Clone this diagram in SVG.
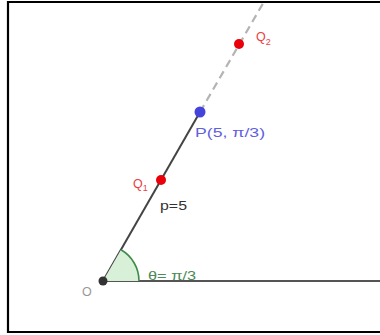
<svg xmlns="http://www.w3.org/2000/svg" width="380" height="335" viewBox="0 0 380 335">
<style>
text{font-family:"Liberation Sans",Arial,sans-serif;font-size:12.5px}
.red{fill:#e8413f}
</style>
<rect width="380" height="335" fill="#fff"/>
<g id="frame" fill="none" stroke="#000" stroke-width="2.2">
<polyline points="382,2 8,2 8,332 382,332"/>
</g>
<g id="connectors" fill="none" stroke-linecap="butt">
<line x1="103" y1="281" x2="380" y2="281" stroke="#555" stroke-width="2"/>
<line x1="103" y1="281" x2="200" y2="112" stroke="#444" stroke-width="2"/>
<line x1="200" y1="112" x2="265" y2="0" stroke="#b4b4b4" stroke-width="2.2" stroke-dasharray="8,5"/>
</g>
<g id="angle">
<path d="M103,281 L139,281 A36,36 0 0 0 121,249.8 Z" fill="#d8f0d8" stroke="none"/>
<path d="M139,281 A36,36 0 0 0 121,249.8" fill="none" stroke="#3d8a4a" stroke-width="1.6"/>
<text x="148" y="280" fill="#4d8a55" textLength="48" lengthAdjust="spacingAndGlyphs">θ= π/3</text>
</g>
<g id="O">
<circle cx="103" cy="281" r="4.5" fill="#333"/>
<text x="82" y="296" fill="#999">O</text>
</g>
<g id="Q1">
<circle cx="161" cy="180" r="5" fill="#e8000a"/>
<text x="133" y="188" class="red">Q<tspan font-size="9" dy="3">1</tspan></text>
</g>
<g id="plabel">
<text x="160" y="210" fill="#333" textLength="27" lengthAdjust="spacingAndGlyphs">p=5</text>
</g>
<g id="P">
<circle cx="200" cy="112" r="5.5" fill="#4444dd"/>
<text x="195" y="137" fill="#6060e0" textLength="70" lengthAdjust="spacingAndGlyphs">P(5, π/3)</text>
</g>
<g id="Q2">
<circle cx="239" cy="44" r="5" fill="#e8000a"/>
<text x="256" y="41" class="red">Q<tspan font-size="9" dy="4">2</tspan></text>
</g>
</svg>
